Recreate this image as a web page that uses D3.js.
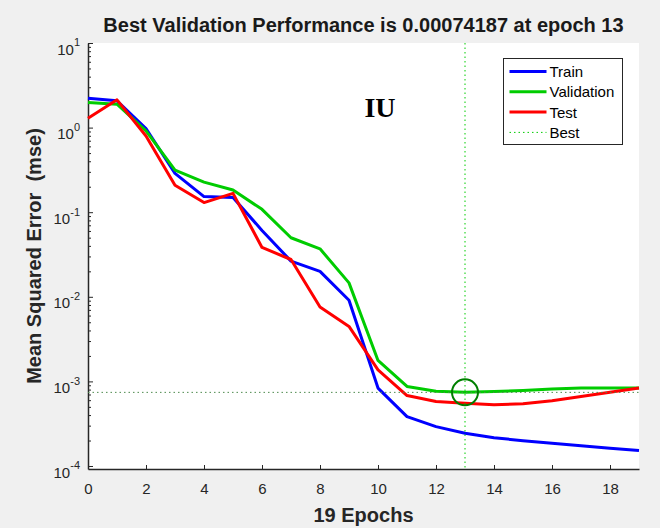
<!DOCTYPE html>
<html lang="en">
<head>
    <meta charset="UTF-8">
    <title>Best Validation Performance</title>
    <script src="https://d3js.org/d3.v7.min.js"></script>
    <style>
        body { margin: 0; background: #f0f0f0; }
        svg { display: block; font-family: "Liberation Sans", Arial, Helvetica, sans-serif; }
    </style>
</head>
<body>
    <div id="chart"></div>

    <script>
        // Données (MSE par epoch)
        const epochs = d3.range(0, 20);
        const train = [2.23, 2.07, 0.976, 0.288, 0.153, 0.149, 0.0609, 0.0264, 0.0200, 0.00909,
                       0.000834, 0.000384, 0.000292, 0.000244, 0.000216, 0.000199, 0.000186, 0.000173, 0.000162, 0.000152];
        const validation = [1.98, 1.89, 0.914, 0.315, 0.227, 0.183, 0.108, 0.0499, 0.0369, 0.0146,
                            0.00177, 0.000871, 0.000765, 0.00074187, 0.000760, 0.000782, 0.000815, 0.000835, 0.000835, 0.000835];
        const test = [1.29, 2.13, 0.797, 0.208, 0.130, 0.167, 0.0383, 0.0276, 0.00759, 0.00447,
                      0.00137, 0.000681, 0.000578, 0.000553, 0.000528, 0.000543, 0.000589, 0.000662, 0.000746, 0.000834];
        const bestEpoch = 13;
        const bestPerf = 0.00074187;

        const xTicks = [0, 2, 4, 6, 8, 10, 12, 14, 16, 18];
        const yExponents = [-4, -3, -2, -1, 0, 1];

        const series = [
            { name: "Train", values: train, color: "#0000ff" },
            { name: "Validation", values: validation, color: "#00cc00" },
            { name: "Test", values: test, color: "#ff0000" }
        ];

        const W = 660, H = 528;
        const margin = { top: 43, right: 21, bottom: 59, left: 88 };
        const innerW = W - margin.left - margin.right;
        const innerH = H - margin.top - margin.bottom;

        const svg = d3.select("#chart").append("svg")
            .attr("width", W)
            .attr("height", H);

        svg.append("rect").attr("width", W).attr("height", H).attr("fill", "#f0f0f0");

        const g = svg.append("g")
            .attr("transform", `translate(${margin.left},${margin.top})`);

        g.append("rect")
            .attr("width", innerW)
            .attr("height", innerH)
            .attr("fill", "#ffffff");

        // Échelles
        const lastEpoch = epochs[epochs.length - 1];
        const x = d3.scaleLinear().domain([0, lastEpoch]).range([0, innerW]);
        const y = d3.scaleLog().domain([Math.pow(10, -4.0355), 10]).range([innerH, 0]);

        // Axes (ticks vers l'intérieur, style MATLAB)
        const axisColor = "#262626";

        const xAxis = g.append("g")
            .attr("transform", `translate(0,${innerH})`)
            .call(d3.axisBottom(x).tickValues(xTicks).tickSize(-4).tickSizeOuter(0).tickPadding(14).tickFormat(d3.format("d")));

        const minorTicks = [];
        yExponents.slice(0, -1).forEach(e => {
            for (let k = 2; k <= 9; k++) minorTicks.push(k * Math.pow(10, e));
        });

        g.append("g")
            .call(d3.axisLeft(y).tickValues(minorTicks).tickSize(-3).tickFormat(""))
            .call(s => s.select(".domain").remove());

        const yAxis = g.append("g")
            .call(d3.axisLeft(y).tickValues(yExponents.map(e => Math.pow(10, e))).tickSize(-5).tickSizeOuter(0).tickPadding(8).tickFormat(""));

        yAxis.selectAll(".tick text")
            .attr("dy", "0.74em")
            .each(function (d) {
                const t = d3.select(this);
                t.append("tspan").text("10");
                t.append("tspan")
                    .attr("dy", "-0.75em")
                    .attr("font-size", 11)
                    .text(Math.round(Math.log10(d)));
            });

        [xAxis, yAxis].forEach(a => {
            a.attr("font-size", 15).attr("font-family", null);
            a.selectAll(".tick text").attr("fill", axisColor);
        });
        g.selectAll(".domain").attr("stroke", axisColor).attr("stroke-width", 1.5);
        g.selectAll(".tick line").attr("stroke", axisColor);

        // Courbes
        const line = d3.line()
            .x((d, i) => x(epochs[i]))
            .y(d => y(d));

        series.forEach(s => {
            g.append("path")
                .datum(s.values)
                .attr("fill", "none")
                .attr("stroke", s.color)
                .attr("stroke-width", 3)
                .attr("stroke-linejoin", "round")
                .attr("d", line);
        });

        // Meilleur epoch
        g.append("line")
            .attr("x1", x(bestEpoch)).attr("x2", x(bestEpoch))
            .attr("y1", 0).attr("y2", innerH)
            .attr("stroke", "#00cc00").attr("stroke-width", 1)
            .attr("stroke-dasharray", "1.5,3");

        g.append("line")
            .attr("x1", 0).attr("x2", innerW)
            .attr("y1", y(bestPerf)).attr("y2", y(bestPerf))
            .attr("stroke", "#4d8a4d").attr("stroke-width", 1)
            .attr("stroke-dasharray", "1.5,3");

        g.append("circle")
            .attr("cx", x(bestEpoch))
            .attr("cy", y(bestPerf))
            .attr("r", 13)
            .attr("fill", "none")
            .attr("stroke", "#007f00")
            .attr("stroke-width", 2);

        // Légende
        const legend = svg.append("g").attr("transform", "translate(503.5,58.5)");
        legend.append("rect")
            .attr("width", 119).attr("height", 86)
            .attr("fill", "#ffffff").attr("stroke", axisColor).attr("stroke-width", 1);

        const legendItems = series.concat([{ name: "Best", color: "#00cc00", dotted: true }]);
        legendItems.forEach((it, i) => {
            const yy = 13 + i * 20.3;
            legend.append("line")
                .attr("x1", 6).attr("x2", 43)
                .attr("y1", yy).attr("y2", yy)
                .attr("stroke", it.color)
                .attr("stroke-width", it.dotted ? 1 : 3)
                .attr("stroke-dasharray", it.dotted ? "1.5,3" : null);
            legend.append("text")
                .attr("x", 46).attr("y", yy)
                .attr("dy", "0.36em")
                .attr("font-size", 15)
                .attr("fill", "#000")
                .text(it.name);
        });

        // Titre et libellés
        svg.append("text")
            .attr("x", margin.left + innerW / 2).attr("y", 32)
            .attr("text-anchor", "middle")
            .attr("font-size", 20).attr("font-weight", "bold")
            .attr("fill", "#1a1a1a")
            .text(`Best Validation Performance is ${bestPerf} at epoch ${bestEpoch}`);

        svg.append("text")
            .attr("x", margin.left + innerW / 2).attr("y", 522)
            .attr("text-anchor", "middle")
            .attr("font-size", 20).attr("font-weight", "bold")
            .attr("fill", axisColor)
            .text(`${lastEpoch} Epochs`);

        svg.append("text")
            .attr("transform", `translate(41,${margin.top + innerH / 2}) rotate(-90)`)
            .attr("text-anchor", "middle")
            .attr("font-size", 20).attr("font-weight", "bold")
            .attr("fill", axisColor)
            .attr("xml:space", "preserve")
            .style("white-space", "pre")
            .text("Mean Squared Error  (mse)");

        svg.append("text")
            .attr("x", 380).attr("y", 117)
            .attr("text-anchor", "middle")
            .attr("font-family", "'Liberation Serif', 'Times New Roman', serif")
            .attr("font-size", 28).attr("font-weight", "bold")
            .attr("fill", "#000")
            .text("IU");
    </script>
</body>
</html>
